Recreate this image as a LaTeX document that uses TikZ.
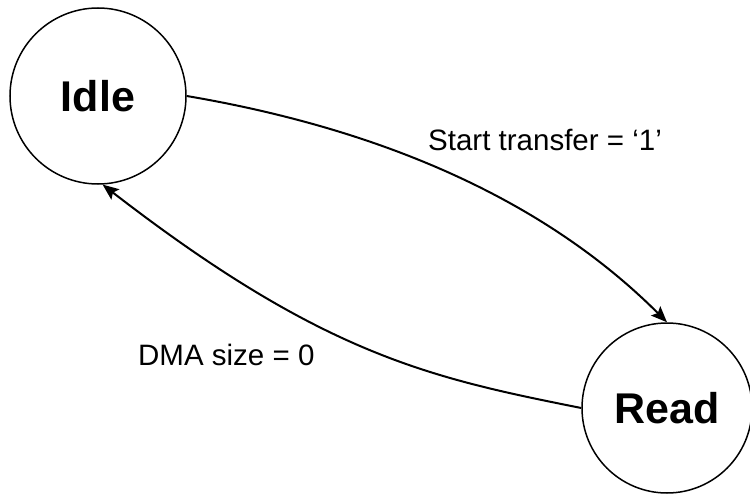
\documentclass[tikz,border=0pt]{standalone}
\usepackage{fontspec}
\setmainfont{Liberation Sans}
\usetikzlibrary{arrows.meta,positioning}
\tikzset{
    state/.style={draw,circle,line width=1.5pt,inner sep=0pt,
        font=\fontsize{43}{50}\selectfont\bfseries},
    trans/.style={line width=2pt,-{Stealth[length=16pt,width=13pt,inset=3pt]}},
    cond/.style={font=\fontsize{29.5}{34}\selectfont,inner sep=0pt,anchor=base west}
}

\begin{document}
\begin{tikzpicture}[x=1pt,y=-1pt]
    \useasboundingbox (0,0) rectangle (750,495);

    % states
    \node[state,minimum size=176pt] (idle) at (98,96) {Idle};
    \node[state,minimum size=170pt] (read) at (667,408) {Read};

    % transitions
    \draw[trans] (idle.east) .. controls +(200,34) and +(-120,-120) .. (read.north);
    \draw[trans] (read.west) .. controls +(-150,-30) and +(221,171) .. (idle.-87);

    % conditions
    \node[cond] (start) at (428,150) {Start transfer = ‘1’};
    \node[cond] (size) at (138,365) {DMA size = 0};
\end{tikzpicture}
\end{document}
